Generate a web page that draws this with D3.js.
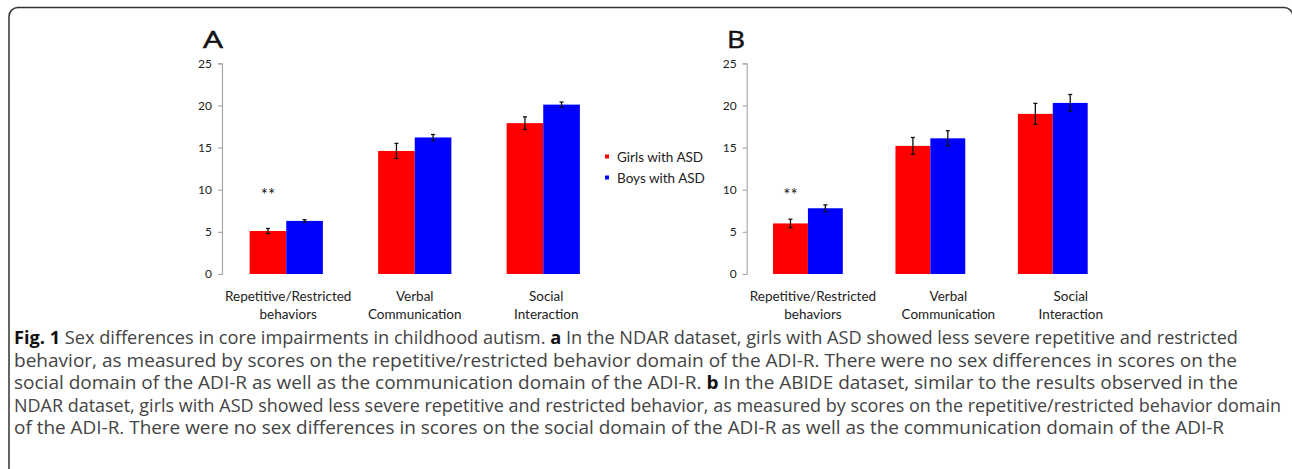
<!DOCTYPE html>
<html>
<head>
<meta charset="utf-8">
<script src="https://cdn.jsdelivr.net/npm/d3@7"></script>
<style>
	body { margin: 0; background: #fff; }
	svg { display: block; }
	.tick text { font-family: Lato, "Open Sans", sans-serif; font-size: 12px; fill: #222; }
	.cat-label { font-family: Lato, "Open Sans", sans-serif; font-size: 13.5px; fill: #222; }
	.sig-label { font-family: Lato, "Open Sans", sans-serif; font-size: 17px; fill: #222; }
	.legend-label { font-family: Lato, "Open Sans", sans-serif; font-size: 13.5px; fill: #222; }
	.panel-title { font-family: "Open Sans", sans-serif; font-size: 23px; fill: #111; stroke: #111; stroke-width: 0.5; }
	.caption { font-family: "Open Sans", sans-serif; font-size: 18px; fill: #444; }
</style>
</head>
<body>
<svg width="1292" height="469"></svg>
<script>
// data
const categories = [["Repetitive/Restricted", "behaviors"], ["Verbal", "Communication"], ["Social", "Interaction"]];
const seriesNames = ["Girls with ASD", "Boys with ASD"];
const seriesColors = ["#ff0000", "#0000ff"];
const yTicks = [0, 5, 10, 15, 20, 25];

// panel A (NDAR)
const girlsA = [5.1, 14.6, 17.9];
const girlsAErr = [0.3, 0.9, 0.75];
const boysA = [6.3, 16.2, 20.1];
const boysAErr = [0.15, 0.35, 0.3];

// panel B (ABIDE)
const girlsB = [6.0, 15.2, 19.0];
const girlsBErr = [0.5, 1.0, 1.25];
const boysB = [7.8, 16.1, 20.3];
const boysBErr = [0.4, 0.9, 1.0];

// significance marks: category index, height
const sigA = [{ cat: 0, y: 10, label: "**" }];
const sigB = [{ cat: 0, y: 10, label: "**" }];

const captionLines = [
	[["b", "Fig. 1"], ["n", " Sex differences in core impairments in childhood autism. "], ["b", "a"], ["n", " In the NDAR dataset, girls with ASD showed less severe repetitive and restricted"]],
	[["n", "behavior, as measured by scores on the repetitive/restricted behavior domain of the ADI-R. There were no sex differences in scores on the"]],
	[["n", "social domain of the ADI-R as well as the communication domain of the ADI-R. "], ["b", "b"], ["n", " In the ABIDE dataset, similar to the results observed in the"]],
	[["n", "NDAR dataset, girls with ASD showed less severe repetitive and restricted behavior, as measured by scores on the repetitive/restricted behavior domain"]],
	[["n", "of the ADI-R. There were no sex differences in scores on the social domain of the ADI-R as well as the communication domain of the ADI-R"]]
];
const captionWidths = [1224, 1223, 1224, 1267, 1210];

const svg = d3.select("svg");

// outer frame
svg.append("rect")
	.attr("x", 9)
	.attr("y", 7.5)
	.attr("width", 1284)
	.attr("height", 470)
	.attr("rx", 9)
	.attr("fill", "none")
	.attr("stroke", "#333")
	.attr("stroke-width", 1.5);

function drawPanel(opt) {
	const g = svg.append("g").attr("class", "panel");
	const rows = categories.map(function(c, i) {
		return { i: i, vals: [opt.girls[i], opt.boys[i]], errs: [opt.girlsErr[i], opt.boysErr[i]] };
	});

	const x = d3.scaleBand()
		.domain(d3.range(categories.length))
		.range([opt.left, opt.right])
		.paddingInner(0.43)
		.paddingOuter(0.215);

	const x1 = d3.scaleBand()
		.domain([0, 1])
		.range([0, x.bandwidth()]);

	const y = d3.scaleLinear()
		.domain([0, 25])
		.range([274, 63.3]);

	const yAxis = d3.axisLeft(y)
		.tickValues(yTicks)
		.tickSize(4)
		.tickPadding(6);

	const ax = g.append("g")
		.attr("transform", "translate(" + opt.left + ",0)")
		.call(yAxis);
	ax.selectAll("path, line").attr("stroke", "#aaa").attr("stroke-width", 1.2);

	const grp = g.selectAll(".grp")
		.data(rows)
		.enter().append("g")
		.attr("class", "grp")
		.attr("transform", function(d) { return "translate(" + x(d.i) + ",0)"; });

	grp.selectAll("rect")
		.data(function(d) { return d.vals.map(function(v, k) { return { k: k, v: v }; }); })
		.enter().append("rect")
		.attr("x", function(d) { return x1(d.k); })
		.attr("y", function(d) { return y(d.v); })
		.attr("width", x1.bandwidth())
		.attr("height", function(d) { return y(0) - y(d.v); })
		.attr("fill", function(d) { return seriesColors[d.k]; });

	// error bars
	const eb = grp.selectAll(".err")
		.data(function(d) { return d.vals.map(function(v, k) { return { k: k, v: v, e: d.errs[k] }; }); })
		.enter().append("g")
		.attr("class", "err")
		.attr("stroke", "#111")
		.attr("stroke-width", 1.3);
	eb.append("line")
		.attr("x1", function(d) { return x1(d.k) + x1.bandwidth() / 2; })
		.attr("x2", function(d) { return x1(d.k) + x1.bandwidth() / 2; })
		.attr("y1", function(d) { return y(d.v - d.e); })
		.attr("y2", function(d) { return y(d.v + d.e); });
	[-1, 1].forEach(function(s) {
		eb.append("line")
			.attr("x1", function(d) { return x1(d.k) + x1.bandwidth() / 2 - 2; })
			.attr("x2", function(d) { return x1(d.k) + x1.bandwidth() / 2 + 2; })
			.attr("y1", function(d) { return y(d.v + s * d.e); })
			.attr("y2", function(d) { return y(d.v + s * d.e); });
	});

	// category labels
	grp.append("text")
		.attr("class", "cat-label")
		.attr("text-anchor", "middle")
		.attr("x", function(d) { return x.bandwidth() / 2 + opt.labelShift[d.i]; })
		.attr("y", 301)
		.selectAll("tspan")
		.data(function(d) { return categories[d.i]; })
		.enter().append("tspan")
		.attr("x", function() { return x.bandwidth() / 2 + opt.labelShift[d3.select(this.parentNode).datum().i]; })
		.attr("dy", function(d, i) { return i === 0 ? 0 : 18; })
		.text(function(d) { return d; });

	// significance
	g.selectAll(".sig")
		.data(opt.sig)
		.enter().append("text")
		.attr("class", "sig-label")
		.attr("text-anchor", "middle")
		.attr("x", function(d) { return x(d.cat) + x1(0) + x1.bandwidth() / 2; })
		.attr("y", function(d) { return y(d.y) + 11; })
		.text(function(d) { return d.label; });

	g.append("text")
		.attr("class", "panel-title")
		.attr("x", opt.titleX)
		.attr("y", 47.5)
		.attr("textLength", opt.titleW)
		.attr("lengthAdjust", "spacingAndGlyphs")
		.text(opt.title);
}

drawPanel({ title: "A", titleX: 203, titleW: 20, left: 222, right: 607.5, girls: girlsA, girlsErr: girlsAErr, boys: boysA, boysErr: boysAErr, sig: sigA, labelShift: [2, 0, 3] });
drawPanel({ title: "B", titleX: 727, titleW: 18, left: 746.7, right: 1114, girls: girlsB, girlsErr: girlsBErr, boys: boysB, boysErr: boysBErr, sig: sigB, labelShift: [5, 18, 18] });

// legend
const legend = svg.append("g").attr("class", "legend");
legend.selectAll("rect")
	.data(seriesNames)
	.enter().append("rect")
	.attr("x", 605)
	.attr("y", function(d, i) { return 154.5 + i * 21; })
	.attr("width", 4)
	.attr("height", 4)
	.attr("fill", function(d, i) { return seriesColors[i]; });
legend.selectAll("text")
	.data(seriesNames)
	.enter().append("text")
	.attr("class", "legend-label")
	.attr("x", 617)
	.attr("y", function(d, i) { return 161.5 + i * 21; })
	.text(function(d) { return d; });

// caption
const cap = svg.append("g").attr("class", "caption-g");
captionLines.forEach(function(parts, li) {
	const t = cap.append("text")
		.attr("class", "caption")
		.attr("x", 14)
		.attr("y", 344 + li * 22.5)
		.attr("textLength", captionWidths[li])
		.attr("lengthAdjust", "spacingAndGlyphs");
	parts.forEach(function(p) {
		t.append("tspan")
			.attr("font-weight", p[0] === "b" ? 700 : 400)
			.attr("fill", p[0] === "b" ? "#111" : "#444")
			.text(p[1]);
	});
});
</script>
</body>
</html>
